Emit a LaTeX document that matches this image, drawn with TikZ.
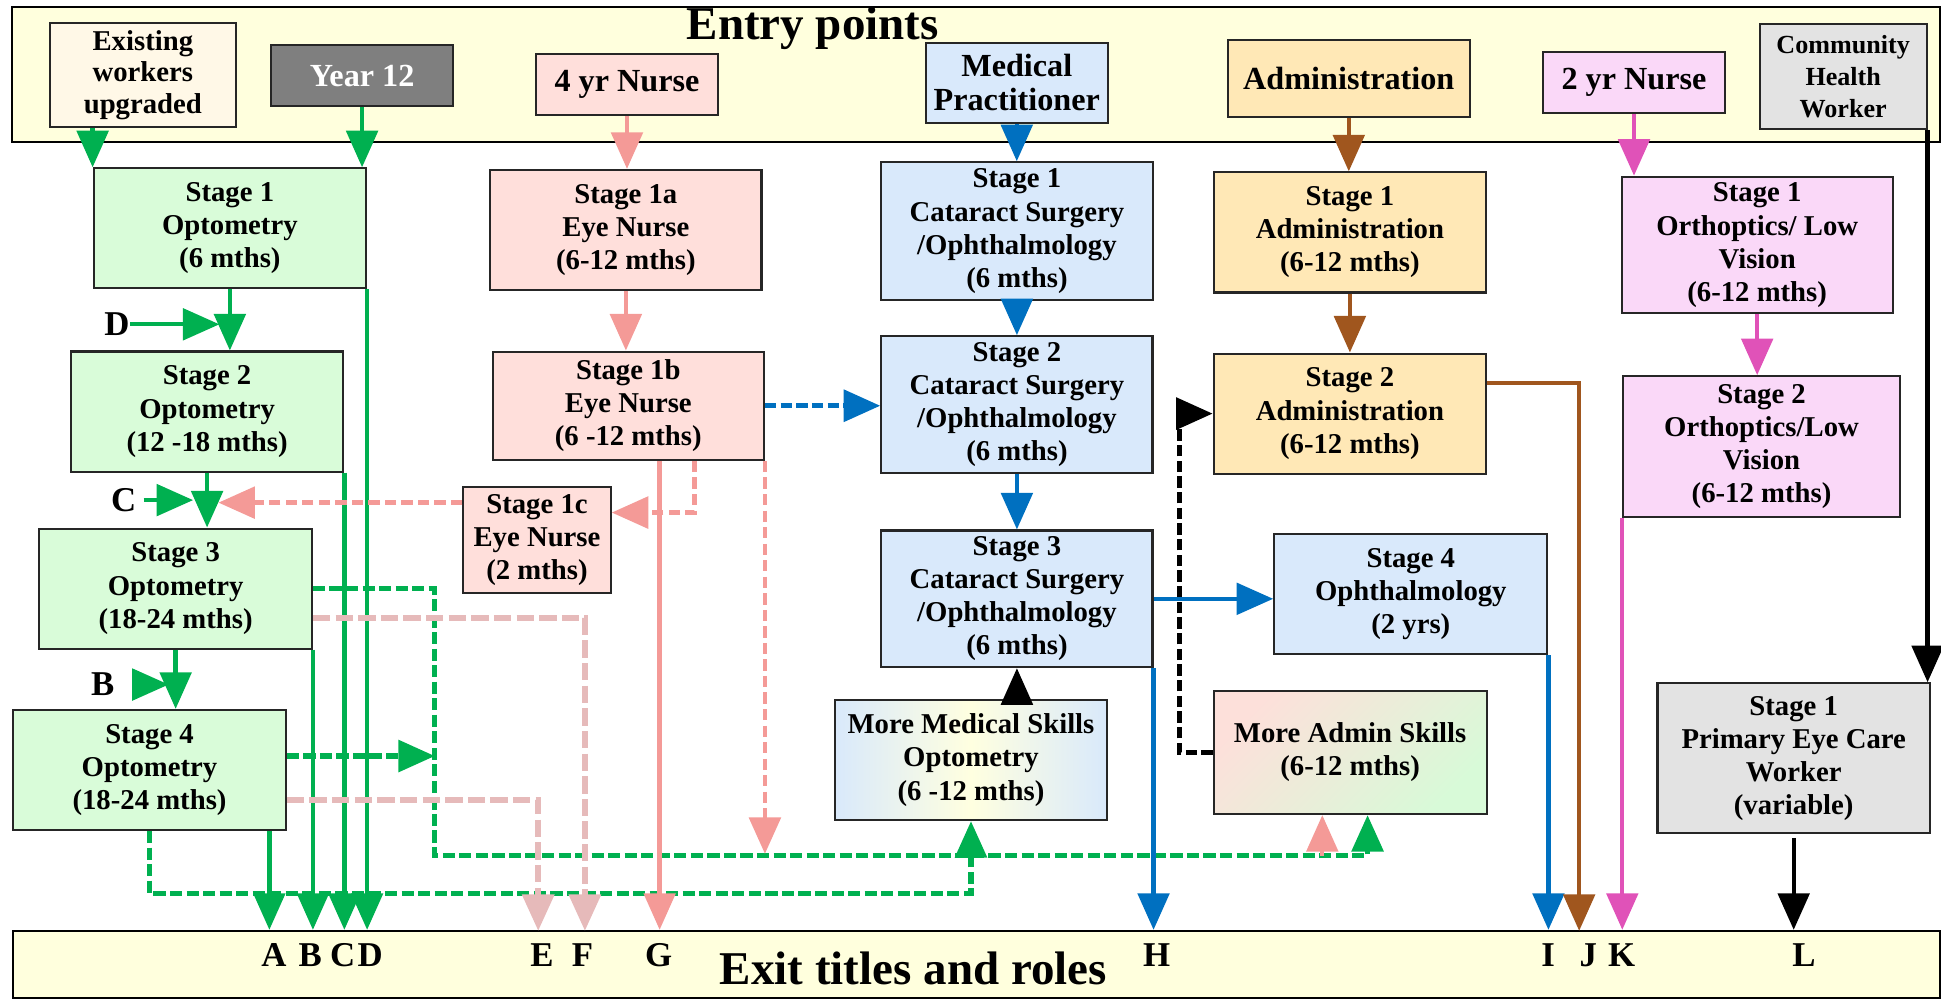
\documentclass[tikz,border=0pt]{standalone}
\usepackage{fontspec}
\setmainfont{Liberation Serif}
\usetikzlibrary{arrows.meta,positioning}
\definecolor{bandfill}{HTML}{FFFFDD}
\definecolor{exfill}{HTML}{FFF8E7}
\definecolor{yearfill}{HTML}{7F7F7F}
\definecolor{nursefill}{HTML}{FFDFDB}
\definecolor{optfill}{HTML}{D9FCD9}
\definecolor{medfill}{HTML}{D9E9FB}
\definecolor{admfill}{HTML}{FFE8B6}
\definecolor{orthfill}{HTML}{FAD8F8}
\definecolor{chwfill}{HTML}{E3E3E3}
\definecolor{optgreen}{HTML}{00B050}
\definecolor{nursepink}{HTML}{F49A97}
\definecolor{fadepink}{HTML}{E6BABA}
\definecolor{medblue}{HTML}{0070C0}
\definecolor{admbrown}{HTML}{A0561E}
\definecolor{orthmag}{HTML}{E052B8}
\definecolor{admpink}{HTML}{FDE0DA}
\definecolor{admgreen}{HTML}{D8FAD8}
\definecolor{skillyellow}{HTML}{FFFFE0}

\begin{document}
\begin{tikzpicture}[x=0.025cm,y=-0.025cm,
  >={Triangle[length=21pt,width=18pt]},
  stagebox/.style={draw=black!85,line width=1.2pt,align=center,inner sep=0pt,
    font=\fontsize{16.5}{19}\selectfont\bfseries,minimum width=5.5cm,minimum height=2.425cm},
  entrybox/.style={stagebox,font=\fontsize{18.5}{20}\selectfont\bfseries,minimum height=1.23cm},
  band/.style={draw,line width=1.2pt,fill=bandfill,inner sep=0pt},
  bandtitle/.style={font=\fontsize{27}{30}\selectfont\bfseries,inner sep=0pt,anchor=base},
  exitletter/.style={font=\fontsize{20}{20}\selectfont\bfseries,inner sep=0pt,anchor=base},
  optline/.style={draw=optgreen,line width=2.5pt,->},
  optdash/.style={draw=optgreen,line width=3pt,dash pattern=on 7pt off 2.5pt},
  nurseline/.style={draw=nursepink,line width=2.5pt,->},
  nursedash/.style={draw=nursepink,line width=2.8pt,dash pattern=on 6.5pt off 3pt},
  fadedash/.style={draw=fadepink,line width=3.4pt,dash pattern=on 10pt off 3pt},
  medline/.style={draw=medblue,line width=2.5pt,->},
  meddash/.style={draw=medblue,line width=3pt,dash pattern=on 6.5pt off 2.5pt},
  admline/.style={draw=admbrown,line width=2.5pt,->},
  orthline/.style={draw=orthmag,line width=2.5pt,->},
  blackline/.style={draw=black,line width=2.5pt,->},
  blackdash/.style={draw=black,line width=3pt,dash pattern=on 6.5pt off 2.5pt}]

  \useasboundingbox (0,0) rectangle (1568,807);

  % bands
  \node[band,minimum width=38.93cm,minimum height=2.725cm] (entryband) at (788.35,59.9) {};
  \node[bandtitle] (entrytitle) at (656.5,32.3) {Entry points};
  \node[band,minimum width=38.905cm,minimum height=1.35cm] (exitband) at (788.9,779) {};
  \node[bandtitle] (exittitle) at (737.8,795) {Exit titles and roles};

  % entry points
  \node[entrybox,fill=exfill,font=\fontsize{16.5}{18.2}\selectfont\bfseries,minimum width=3.75cm,minimum height=2.115cm] (existing) at (115.4,60.6) {Existing\\workers\\upgraded};
  \node[entrybox,fill=yearfill,text=white,minimum width=3.675cm] (year12) at (292.5,61) {Year 12};
  \node[entrybox,fill=nursefill,minimum width=3.675cm] (nurse4) at (506.5,68.3) {4 yr Nurse};
  \node[entrybox,fill=medfill,font=\fontsize{18.5}{19.5}\selectfont\bfseries,minimum width=3.667cm,minimum height=1.615cm] (medprac) at (821.4,66.8) {Medical\\Practitioner};
  \node[entrybox,fill=admfill,minimum width=4.88cm,minimum height=1.5625cm] (admin) at (1089.6,63.6) {Administration};
  \node[entrybox,fill=orthfill,minimum width=3.675cm] (nurse2) at (1320,66.9) {2 yr Nurse};
  \node[entrybox,fill=chwfill,font=\fontsize{15}{18.5}\selectfont\bfseries,minimum width=3.365cm,minimum height=2.1275cm] (chw) at (1489,62) {Community\\Health\\Worker};

  % optometry
  \node[stagebox,fill=optfill] (opt1) at (185.7,184.5) {Stage 1\\Optometry\\(6 mths)};
  \node[stagebox,fill=optfill] (opt2) at (167.3,332.5) {Stage 2\\Optometry\\(12 -18 mths)};
  \node[stagebox,fill=optfill] (opt3) at (141.9,475.5) {Stage 3\\Optometry\\(18-24 mths)};
  \node[stagebox,fill=optfill] (opt4) at (120.8,622) {Stage 4\\Optometry\\(18-24 mths)};

  % eye nurse
  \node[stagebox,fill=nursefill,minimum width=5.475cm] (eyen1a) at (505.6,185.8) {Stage 1a\\Eye Nurse\\(6-12 mths)};
  \node[stagebox,fill=nursefill,minimum width=5.475cm,minimum height=2.1875cm] (eyen1b) [below=1.2cm of eyen1a, xshift=1.4pt] {Stage 1b\\Eye Nurse\\(6 -12 mths)};
  \node[stagebox,fill=nursefill,minimum width=2.975cm,minimum height=2.145cm] (eyen1c) at (433.8,436) {Stage 1c\\Eye Nurse\\(2 mths)};

  % cataract surgery / ophthalmology
  \node[stagebox,fill=medfill,minimum height=2.78cm] (cat1) at (821.5,186.7) {Stage 1\\Cataract Surgery\\/Ophthalmology\\(6 mths)};
  \node[stagebox,fill=medfill,minimum width=5.475cm,minimum height=2.76cm] (cat2) [below=0.69cm of cat1] {Stage 2\\Cataract Surgery\\/Ophthalmology\\(6 mths)};
  \node[stagebox,fill=medfill,minimum width=5.475cm,minimum height=2.76cm] (cat3) [below=1.12cm of cat2] {Stage 3\\Cataract Surgery\\/Ophthalmology\\(6 mths)};
  \node[stagebox,fill=medfill,minimum width=5.515cm] (ophth4) at (1139.7,479.9) {Stage 4\\Ophthalmology\\(2 yrs)};
  \node[stagebox,minimum width=5.475cm,left color=medfill,right color=medfill,middle color=skillyellow] (moremed) at (784.4,614) {More Medical Skills\\Optometry\\(6 -12 mths)};

  % administration
  \node[stagebox,fill=admfill] (adm1) at (1090.5,187.8) {Stage 1\\Administration\\(6-12 mths)};
  \node[stagebox,fill=admfill] (adm2) [below=1.19cm of adm1] {Stage 2\\Administration\\(6-12 mths)};
  \node[stagebox,minimum width=5.515cm,minimum height=2.49cm,left color=admpink,right color=admgreen,shading angle=45] (moreadm) at (1090.7,607.8) {More Admin Skills\\(6-12 mths)};

  % orthoptics and primary eye care
  \node[stagebox,fill=orthfill,minimum width=5.475cm,minimum height=2.76cm] (orth1) at (1419.5,198) {Stage 1\\Orthoptics/ Low\\Vision\\(6-12 mths)};
  \node[stagebox,fill=orthfill,minimum width=5.58cm,minimum height=2.85cm] (orth2) [below=1.225cm of orth1, xshift=2.5pt] {Stage 2\\Orthoptics/Low\\Vision\\(6-12 mths)};
  \node[stagebox,fill=chwfill,minimum height=3.03cm] (primary) at (1449,612.6) {Stage 1\\Primary Eye Care\\Worker\\(variable)};

  % exit letters
  \node[exitletter] (exA) at (221.4,781) {A};
  \node[exitletter] (exB) at (250.6,781) {B};
  \node[exitletter] (exC) at (276.8,781) {C};
  \node[exitletter] (exD) at (299,781) {D};
  \node[exitletter] (exE) at (437.8,781) {E};
  \node[exitletter] (exF) at (470.6,781) {F};
  \node[exitletter] (exG) at (532,781) {G};
  \node[exitletter] (exH) at (934.4,781) {H};
  \node[exitletter] (exI) at (1250.6,781) {I};
  \node[exitletter] (exJ) at (1283,781) {J};
  \node[exitletter] (exK) at (1310,781) {K};
  \node[exitletter] (exL) at (1457.4,781) {L};

  % re-entry letters
  \node[exitletter,anchor=center] (labD) at (94.5,262) {D};
  \node[exitletter,anchor=center] (labC) at (100,404) {C};
  \node[exitletter,anchor=center] (labB) at (83,553) {B};

  % turning points
  \coordinate (exitA) at ([xshift=-10pt]opt4.south east);
  \coordinate (opt4up) at ([yshift=8pt]opt4.east);
  \coordinate (opt4down) at ([yshift=-17pt]opt4.east);
  \coordinate (opt3down) at ([yshift=-17pt]opt3.east);
  \coordinate (greenrun) at (351.3,691.2);
  \coordinate (greenlow) at (784.4,721.6);
  \coordinate (exitE) at (434.8,752);
  \coordinate (exitF) at (472.5,752);
  \coordinate (exitG) at ([xshift=18pt]eyen1b.south);
  \coordinate (eyeright) at ([xshift=38pt]eyen1b.south);
  \coordinate (eyecin) at ([yshift=15.6pt]eyen1c.east);
  \coordinate (eyecout) at ([yshift=21.3pt]eyen1c.west);
  \coordinate (admgreenin) at ([xshift=10pt]moreadm.south);
  \coordinate (admpinkin) at ([xshift=-16pt]moreadm.south);
  \coordinate (admloop) at ([xshift=-19pt]moreadm.west);
  \coordinate (adm2out) at ([yshift=17.5pt]adm2.east);
  \coordinate (exitJ) at (1275.7,752);

  % optometry
  \draw[optline] (existing.south -| opt1.north west) -- (opt1.north west);
  \draw[optline] (year12.south) -- (year12.south |- opt1.north);
  \draw[optline] (opt1.south) -- (opt1.south |- opt2.north);
  \draw[optline] (opt2.south) -- (opt2.south |- opt3.north);
  \draw[optline] (opt3.south) -- (opt3.south |- opt4.north);
  \draw[optline,shorten >=6pt] (labD.east) -- (labD.east -| opt1.south);
  \draw[optline,shorten <=4pt,shorten >=8pt] (labC.east) -- (labC.east -| opt2.south);
  \draw[optline,shorten <=10pt,shorten >=4pt] (labB.east) -- (labB.east -| opt3.south);
  \draw[optline] (opt1.south east) -- (opt1.south east |- exitband.north);
  \draw[optline] (opt2.south east) -- (opt2.south east |- exitband.north);
  \draw[optline] (opt3.south east) -- (opt3.south east |- exitband.north);
  \draw[optline] (exitA) -- (exitA |- exitband.north);
  \draw[optdash,->] (opt3.east) -| (greenrun) -| (admgreenin);
  \draw[optdash,->] (opt4up) -- (opt4up -| greenrun);
  \draw[optdash,->] (opt4.south) |- (greenlow) -- (moremed.south);
  \draw[fadedash,->] (opt3down) -| (exitF);
  \draw[fadedash,->] (opt4down) -| (exitE);

  % eye nurse
  \draw[nurseline] (nurse4.south) -- (nurse4.south |- eyen1a.north);
  \draw[nurseline] (eyen1a.south) -- (eyen1a.south |- eyen1b.north);
  \draw[nurseline] (exitG) -- (exitG |- exitband.north);
  \draw[nursedash,->] (eyeright) |- (eyecin);
  \draw[nursedash,->,shorten >=6.5pt] (eyecout) -- (eyecout -| opt2.south);
  \draw[nursedash,->,shorten >=1pt] (eyen1b.south east) -- (eyen1b.south east |- greenrun);
  \draw[nurseline] (admpinkin |- greenrun) -- (admpinkin);

  % medical
  \draw[medline] (medprac.south) -- (medprac.south |- cat1.north);
  \draw[medline] (cat1.south) -- (cat1.south |- cat2.north);
  \draw[medline] (cat2.south) -- (cat2.south |- cat3.north);
  \draw[meddash,->] (eyen1b.east) -- (eyen1b.east -| cat2.west);
  \draw[medline] (cat3.east) -- (cat3.east -| ophth4.west);
  \draw[medline] (cat3.south east) -- (cat3.south east |- exitband.north);
  \draw[medline] (ophth4.south east) -- (ophth4.south east |- exitband.north);
  \draw[blackline] (cat3.south |- moremed.north) -- (cat3.south);

  % administration
  \draw[admline] (admin.south) -- (admin.south |- adm1.north);
  \draw[admline] (adm1.south) -- (adm1.south |- adm2.north);
  \draw[admline] (adm2out) -| (exitJ);
  \draw[blackdash,->] (moreadm.west) -- (admloop) |- (adm2.west);

  % orthoptics and community
  \draw[orthline] (nurse2.south) -- (nurse2.south |- orth1.north);
  \draw[orthline] (orth1.south) -- (orth1.south |- orth2.north);
  \draw[orthline] (orth2.south west) -- (orth2.south west |- exitband.north);
  \draw[blackline] (chw.south east) -- (chw.south east |- primary.north);
  \draw[blackline,shorten <=2pt] (primary.south) -- (primary.south |- exitband.north);
\end{tikzpicture}
\end{document}
